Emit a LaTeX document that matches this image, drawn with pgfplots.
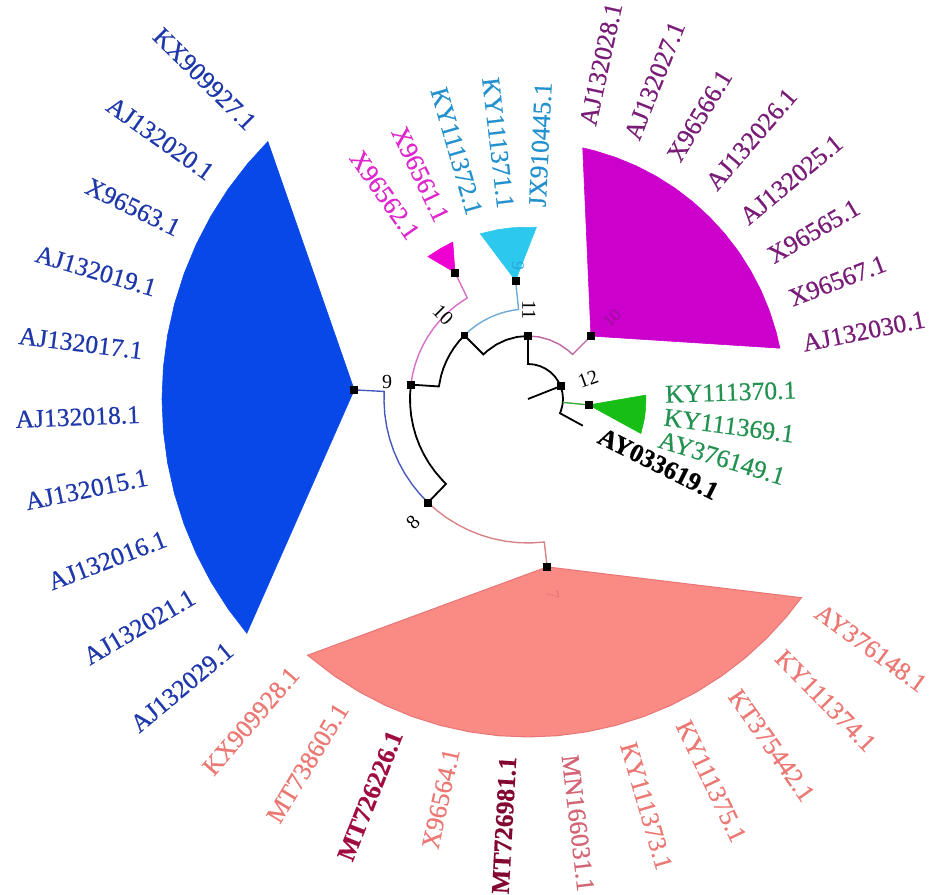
\documentclass[border=0pt]{standalone}
\usepackage{fontspec}
\setmainfont{Liberation Serif}
\newfontfamily\lblfont[FakeBold=0.6]{Liberation Serif}
\usepackage{pgfplots}
\pgfplotsset{compat=1.18}
\definecolor{bluefill}{RGB}{8,72,232}
\definecolor{magfill}{RGB}{204,0,204}
\definecolor{salmfill}{RGB}{250,138,132}
\definecolor{salmdraw}{RGB}{232,118,118}
\definecolor{cyanfill}{RGB}{45,200,238}
\definecolor{pinkfill}{RGB}{238,0,210}
\definecolor{greenfill}{RGB}{22,190,22}
\definecolor{bluelab}{RGB}{30,55,170}
\definecolor{maglab}{RGB}{120,28,120}
\definecolor{salmlab}{RGB}{236,120,115}
\definecolor{salmlabb}{RGB}{210,100,115}
\definecolor{crimlab}{RGB}{160,12,65}
\definecolor{crimlabd}{RGB}{130,8,48}
\definecolor{cyanlab}{RGB}{35,145,205}
\definecolor{pinklab}{RGB}{222,40,205}
\definecolor{greenlab}{RGB}{35,145,80}
\definecolor{mauve}{RGB}{190,100,160}
\definecolor{lblue}{RGB}{110,170,215}
\definecolor{pinkbr}{RGB}{215,110,200}
\definecolor{bluebr}{RGB}{70,90,190}
\definecolor{salmbr}{RGB}{215,130,135}
\definecolor{greenbr}{RGB}{60,170,60}
\newcommand{\labR}[4]{\node[anchor=west,rotate=#1,text=#3,inner sep=0pt,font=\lblfont\fontsize{12.8}{14}\selectfont] at (axis cs:{#2*cos(#1)},{#2*sin(#1)}) {#4};}
\newcommand{\labL}[4]{\node[anchor=east,rotate=#1-180,text=#3,inner sep=0pt,font=\lblfont\fontsize{12.8}{14}\selectfont] at (axis cs:{#2*cos(#1)},{#2*sin(#1)}) {#4};}
\begin{document}
\begin{tikzpicture}
\begin{axis}[x=0.5pt,y=0.5pt,xmin=-528,xmax=404,ymin=-489,ymax=399,hide axis,clip=false]
% bounding corners
\addplot[draw=none] coordinates {(-528,-489) (404,399)};
% ---- wedges ----
\addplot[data cs=polar,fill=bluefill,draw=bluefill,line width=0.3pt] coordinates {(177,174) (135.3,366) (140,366) (145,366) (150,366) (155,366) (160,366) (165,366) (170,366) (175,366) (180,366) (185,366) (190,366) (195,366) (200,366) (205,366) (210,366) (215,366) (219.8,366)} -- cycle;
\addplot[data cs=polar,fill=magfill,draw=magfill,line width=0.3pt] coordinates {(45,89) (77.7,257) (75,257) (70,257) (65,257) (60,257) (55,257) (50,257) (45,257) (40,257) (35,257) (30,257) (25,257) (20,257) (15,257) (11.4,257)} -- cycle;
\addplot[data cs=polar,fill=salmfill,draw=salmdraw,line width=0.5pt] coordinates {(276.5,169) (229.3,338) (235,338) (240,338) (245,338) (250,338) (255,338) (260,338) (265,338) (270,338) (275,338) (280,338) (285,338) (290,338) (295,338) (300,338) (305,338) (310,338) (315,338) (320,338) (324,338)} -- cycle;
\addplot[data cs=polar,fill=cyanfill,draw=cyanfill,line width=0.3pt] coordinates {(96,119) (106.1,172) (100,172) (95,172) (87.2,172)} -- cycle;
\addplot[data cs=polar,fill=pinkfill,draw=pinkfill,line width=0.3pt] coordinates {(120,146) (125.1,174) (120,174) (115.6,174)} -- cycle;
\addplot[data cs=polar,fill=greenfill,draw=greenfill,line width=0.3pt] coordinates {(-5.6,61) (1.9,118) (-5,118) (-10,118) (-17,118)} -- cycle;
% ---- branches ----
\addplot[data cs=polar,black,line width=0.9pt] coordinates {(21.5,0) (21.5,35)};
\addplot[data cs=polar,black,line width=0.9pt] coordinates {(90,63) (90,35) (80,35) (70,35) (60,35) (50,35) (40,35) (30,35) (20,35) (10,35) (0,35) (-10,35) (-20,35) (-24,35) (-26,61)};
\addplot[data cs=polar,greenbr,line width=0.7pt] coordinates {(-5.6,35) (-5.6,61)};
\addplot[data cs=polar,black,line width=0.9pt] coordinates {(135,90) (135,63) (130,63) (120,63) (110,63) (100,63) (90,63)};
\addplot[data cs=polar,mauve,line width=0.7pt] coordinates {(90,63) (80,63) (70,63) (60,63) (50,63) (45,63) (45,89)};
\addplot[data cs=polar,black,line width=0.9pt] coordinates {(173,118) (172,90) (165,90) (160,90) (155,90) (150,90) (145,90) (140,90) (135,90)};
\addplot[data cs=polar,lblue,line width=0.7pt] coordinates {(135,90) (130,90) (125,90) (120,90) (115,90) (110,90) (105,90) (100,90) (96,90) (96,119)};
\addplot[data cs=polar,pinkbr,line width=0.7pt] coordinates {(173,118) (168,118) (163,118) (158,118) (153,118) (148,118) (143,118) (138,118) (133,118) (128,118) (121,118) (120,146)};
\addplot[data cs=polar,black,line width=0.9pt] coordinates {(173,118) (178,118) (183,118) (188,118) (193,118) (198,118) (203,118) (208,118) (213,118) (218,118) (223,118) (226,118) (226,144)};
\addplot[data cs=polar,bluebr,line width=0.7pt] coordinates {(226,144) (221,144) (216,144) (211,144) (206,144) (201,144) (196,144) (191,144) (186,144) (181,144) (177,144) (177,174)};
\addplot[data cs=polar,salmbr,line width=0.7pt] coordinates {(226,144) (231,144) (236,144) (241,144) (246,144) (251,144) (256,144) (261,144) (266,144) (271,144) (276.5,144) (276.5,169)};
% ---- node squares ----
\addplot[data cs=polar,only marks,mark=square*,mark size=1.7pt,black] coordinates {(177,174) (276.5,169) (226,144) (173,118) (135,90) (90,63) (21.5,35) (45,89) (96,119) (120,146) (-5.6,61)};
% ---- internal labels ----
\node[rotate=20,font=\fontsize{10}{11}\selectfont] at (axis cs:60,20) {12};
\node[rotate=-90,font=\fontsize{10}{11}\selectfont] at (axis cs:1,89) {11};
\node[rotate=-45,font=\fontsize{10}{11}\selectfont] at (axis cs:-85,84) {10};
\node[rotate=0,font=\fontsize{10}{11}\selectfont] at (axis cs:-141,17) {9};
\node[rotate=45,font=\fontsize{10}{11}\selectfont] at (axis cs:-115,-123) {8};
\node[rotate=-80,text=salmdraw,font=\fontsize{9}{10}\selectfont] at (axis cs:25,-196) {7};
\node[rotate=45,text=maglab!60!magfill,font=\fontsize{9}{10}\selectfont] at (axis cs:84,81) {10};
\node[rotate=-90,text=cyanlab!60!cyanfill,font=\fontsize{9}{10}\selectfont] at (axis cs:-10,133) {9};
% ---- leaf labels ----
\labL{135.3}{388}{bluelab}{KX909927.1}
\labL{144.7}{388}{bluelab}{AJ132020.1}
\labL{154.1}{388}{bluelab}{X96563.1}
\labL{163.5}{388}{bluelab}{AJ132019.1}
\labL{172.9}{388}{bluelab}{AJ132017.1}
\labL{182.3}{388}{bluelab}{AJ132018.1}
\labL{191.6}{388}{bluelab}{AJ132015.1}
\labL{201.0}{388}{bluelab}{AJ132016.1}
\labL{210.4}{388}{bluelab}{AJ132021.1}
\labL{219.8}{388}{bluelab}{AJ132029.1}
\labL{229.3}{358}{salmlab}{KX909928.1}
\labL{238.8}{358}{salmlab}{MT738605.1}
\labL{248.3}{358}{crimlab}{\bfseries MT726226.1}
\labL{257.7}{358}{salmlab}{X96564.1}
\labL{266.8}{358}{crimlabd}{\bfseries MT726981.1}
\labR{276.7}{358}{salmlabb}{MN166031.1}
\labR{286.2}{358}{salmlab}{KY111373.1}
\labR{295.6}{358}{salmlab}{KY111375.1}
\labR{305.1}{358}{salmlab}{KT375442.1}
\labR{314.6}{358}{salmlab}{KY111374.1}
\labR{324.0}{358}{salmlab}{AY376148.1}
\labR{333.5}{80}{black}{\bfseries AY033619.1}
\labR{343.0}{137}{greenlab}{AY376149.1}
\labR{352.4}{137}{greenlab}{KY111369.1}
\labR{1.9}{137}{greenlab}{KY111370.1}
\labR{11.4}{280}{maglab}{AJ132030.1}
\labR{20.9}{280}{maglab}{X96567.1}
\labR{30.4}{280}{maglab}{X96565.1}
\labR{39.8}{280}{maglab}{AJ132025.1}
\labR{49.3}{280}{maglab}{AJ132026.1}
\labR{58.8}{280}{maglab}{X96566.1}
\labR{68.3}{280}{maglab}{AJ132027.1}
\labR{77.7}{280}{maglab}{AJ132028.1}
\labR{87.2}{192}{cyanlab}{JX910445.1}
\labL{96.7}{192}{cyanlab}{KY111371.1}
\labL{106.1}{192}{cyanlab}{KY111372.1}
\labL{115.6}{198}{pinklab}{X96561.1}
\labL{125.1}{198}{pinklab}{X96562.1}
\end{axis}
\end{tikzpicture}
\end{document}
